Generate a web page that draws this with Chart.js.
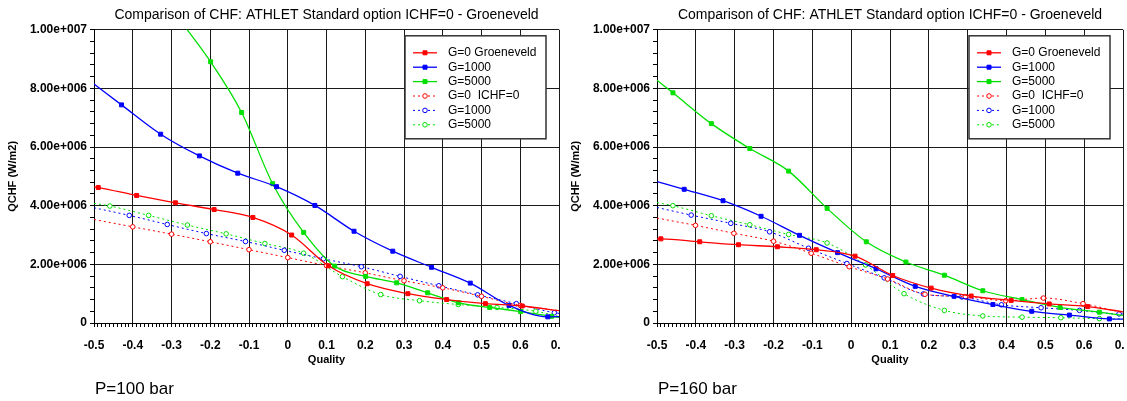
<!DOCTYPE html>
<html>
<head>
<meta charset="utf-8">
<script src="https://cdn.jsdelivr.net/npm/chart.js@4.4.0/dist/chart.umd.min.js"></script>
<style>
body { margin: 0; background: #fff; width: 1127px; height: 401px; overflow: hidden; position: relative; font-family: "Liberation Sans", Arial, sans-serif; }
.pane { position: absolute; top: 0; height: 401px; overflow: hidden; }
.plabel { position: absolute; top: 380px; font-size: 17px; line-height: 17px; color: #000; }
</style>
</head>
<body>
<div class="pane" style="left:0;width:560px"><canvas id="c100" width="560" height="401"></canvas></div>
<div class="pane" style="left:563px;width:561px"><canvas id="c160" width="561" height="401"></canvas></div>
<div class="plabel" style="left:95px">P=100 bar</div>
<div class="plabel" style="left:658px">P=160 bar</div>
<script>
// chart text
const titleText = "Comparison of CHF: ATHLET Standard option ICHF=0 - Groeneveld";
const xTitle = "Quality";
const yTitle = "QCHF (W/m2)";
const seriesLabels = ["G=0 Groeneveld", "G=1000", "G=5000", "G=0  ICHF=0", "G=1000", "G=5000"];

// P=100 bar : [quality, QCHF W/m2]
const p100Groen = [[-0.5,4.64e6],[-0.489,4.62e6],[-0.39,4.35e6],[-0.29,4.10e6],[-0.19,3.87e6],[-0.09,3.60e6],[0.01,3.0e6],[0.105,1.95e6],[0.205,1.34e6],[0.31,1.0e6],[0.41,0.80e6],[0.51,0.66e6],[0.605,0.58e6],[0.7,0.42e6]];
const p100G1000 = [[-0.5,8.15e6],[-0.429,7.44e6],[-0.328,6.44e6],[-0.228,5.70e6],[-0.129,5.11e6],[-0.029,4.65e6],[0.07,4.01e6],[0.171,3.13e6],[0.271,2.45e6],[0.371,1.90e6],[0.471,1.36e6],[0.571,0.60e6],[0.671,0.21e6],[0.7,0.22e6]];
const p100G5000 = [[-0.279,10.35e6],[-0.199,8.91e6],[-0.119,7.18e6],[-0.039,4.75e6],[0.041,3.09e6],[0.121,1.94e6],[0.201,1.59e6],[0.281,1.37e6],[0.361,1.03e6],[0.441,0.69e6],[0.521,0.53e6],[0.601,0.39e6],[0.681,0.23e6],[0.7,0.19e6]];
const p100Ichf0 = [[-0.5,3.53e6],[-0.4,3.28e6],[-0.3,3.03e6],[-0.2,2.77e6],[-0.1,2.50e6],[0.0,2.23e6],[0.1,1.96e6],[0.2,1.71e6],[0.3,1.44e6],[0.4,1.20e6],[0.5,0.91e6],[0.6,0.60e6],[0.7,0.42e6]];
const p100Ichf1000 = [[-0.5,3.93e6],[-0.409,3.67e6],[-0.311,3.36e6],[-0.21,3.05e6],[-0.109,2.78e6],[-0.009,2.48e6],[0.092,2.19e6],[0.19,1.92e6],[0.29,1.59e6],[0.39,1.27e6],[0.49,0.96e6],[0.59,0.66e6],[0.688,0.35e6],[0.7,0.33e6]];
const p100Ichf5000 = [[-0.5,4.08e6],[-0.459,3.99e6],[-0.359,3.67e6],[-0.259,3.34e6],[-0.159,3.04e6],[-0.059,2.71e6],[0.041,2.38e6],[0.141,1.58e6],[0.24,0.97e6],[0.34,0.76e6],[0.44,0.63e6],[0.54,0.53e6],[0.64,0.40e6],[0.7,0.22e6]];

// P=160 bar
const p160Groen = [[-0.5,2.87e6],[-0.49,2.87e6],[-0.39,2.77e6],[-0.29,2.67e6],[-0.19,2.60e6],[-0.09,2.50e6],[0.01,2.28e6],[0.107,1.62e6],[0.206,1.19e6],[0.309,0.92e6],[0.412,0.77e6],[0.51,0.65e6],[0.609,0.56e6],[0.7,0.38e6]];
const p160G1000 = [[-0.5,4.82e6],[-0.43,4.56e6],[-0.33,4.17e6],[-0.232,3.64e6],[-0.133,2.99e6],[-0.035,2.40e6],[0.064,1.85e6],[0.165,1.25e6],[0.265,0.91e6],[0.365,0.63e6],[0.465,0.40e6],[0.562,0.27e6],[0.665,0.14e6],[0.7,0.13e6]];
const p160G5000 = [[-0.5,8.28e6],[-0.459,7.85e6],[-0.36,6.80e6],[-0.261,5.95e6],[-0.161,5.18e6],[-0.062,3.91e6],[0.039,2.77e6],[0.141,2.08e6],[0.24,1.63e6],[0.339,1.10e6],[0.44,0.80e6],[0.538,0.53e6],[0.639,0.37e6],[0.7,0.26e6]];
const p160Ichf0 = [[-0.5,3.58e6],[-0.401,3.33e6],[-0.302,3.06e6],[-0.2,2.79e6],[-0.103,2.38e6],[-0.005,1.92e6],[0.094,1.50e6],[0.19,0.98e6],[0.294,0.90e6],[0.398,0.76e6],[0.495,0.85e6],[0.597,0.66e6],[0.7,0.35e6]];
const p160Ichf1000 = [[-0.5,3.94e6],[-0.412,3.68e6],[-0.31,3.40e6],[-0.21,3.11e6],[-0.11,2.55e6],[-0.011,2.03e6],[0.085,1.54e6],[0.186,0.99e6],[0.285,0.89e6],[0.387,0.62e6],[0.489,0.52e6],[0.588,0.43e6],[0.69,0.31e6],[0.7,0.31e6]];
const p160Ichf5000 = [[-0.5,4.11e6],[-0.459,4.0e6],[-0.36,3.66e6],[-0.261,3.35e6],[-0.161,3.02e6],[-0.062,2.73e6],[0.037,1.98e6],[0.136,1.0e6],[0.24,0.43e6],[0.339,0.24e6],[0.44,0.20e6],[0.54,0.18e6],[0.639,0.15e6],[0.7,0.14e6]];

const colors = ["#ff0000", "#0000ff", "#00e000"];
const FONT = '"Liberation Sans", Arial, sans-serif';

function isMajorX(v) { return Math.abs(v * 10 - Math.round(v * 10)) < 1e-6; }
function isMajorY(v) { return Math.round(v) % 2000000 === 0; }
function fmtY(v) {
    if (v === 0) return "0";
    return v.toExponential(2).replace(/e([+-])(\d+)/, (m, s, d) => "e" + s + d.padStart(3, "0"));
}

function series(i, pts, dotted) {
    const c = colors[i % 3];
    return {
        label: seriesLabels[i],
        data: pts.map(p => ({ x: p[0], y: p[1] })),
        borderColor: c,
        backgroundColor: dotted ? "#fff" : c,
        borderWidth: dotted ? 1 : 1.3,
        borderDash: dotted ? [2, 3] : [],
        pointStyle: dotted ? "circle" : "rect",
        pointRadius: ctx => (ctx.dataIndex === 0 || ctx.dataIndex === ctx.dataset.data.length - 1) ? 0 : (dotted ? 2.3 : 2.8),
        pointBorderWidth: 1,
        pointBorderColor: c,
        pointBackgroundColor: dotted ? "#fff" : c,
        cubicInterpolationMode: "monotone"
    };
}

function drawMarker(ctx, ds, x, y) {
    ctx.save();
    ctx.lineWidth = 1;
    ctx.strokeStyle = ds.borderColor;
    ctx.fillStyle = ds.pointBackgroundColor;
    ctx.beginPath();
    if (ds.pointStyle === "rect") ctx.rect(x - 2, y - 2, 4, 4);
    else ctx.arc(x, y, 2.3, 0, Math.PI * 2);
    ctx.fill();
    ctx.stroke();
    ctx.restore();
}

// legend box in the upper right of the plot
const boxLegend = {
    id: "boxLegend",
    afterDraw(chart) {
        const { ctx, chartArea } = chart;
        const w = 141, h = 103;
        const left = chartArea.right - 13 - w, top = chartArea.top + 6;
        ctx.save();
        ctx.fillStyle = "#fff";
        ctx.fillRect(left, top, w, h);
        ctx.strokeStyle = "#333";
        ctx.lineWidth = 1.5;
        ctx.strokeRect(left, top, w, h);
        chart.data.datasets.forEach((ds, i) => {
            const y = top + 17 + i * 14.4;
            ctx.strokeStyle = ds.borderColor;
            ctx.lineWidth = ds.borderWidth;
            ctx.setLineDash(ds.borderDash);
            ctx.beginPath();
            ctx.moveTo(left + 8, y);
            ctx.lineTo(left + 32, y);
            ctx.stroke();
            ctx.setLineDash([]);
            drawMarker(ctx, ds, left + 20, y);
            ctx.fillStyle = "#000";
            ctx.font = "12px " + FONT;
            ctx.textBaseline = "middle";
            ctx.textAlign = "left";
            ctx.fillText(ds.label, left + 43, y);
        });
        ctx.restore();
    }
};

function makeChart(id, sets, padRight) {
    return new Chart(document.getElementById(id), {
        type: "line",
        data: {
            datasets: [
                series(0, sets[0], false), series(1, sets[1], false), series(2, sets[2], false),
                series(3, sets[3], true), series(4, sets[4], true), series(5, sets[5], true)
            ]
        },
        options: {
            responsive: false,
            animation: false,
            layout: { padding: { left: 0, right: padRight, top: 0, bottom: 31 } },
            plugins: {
                legend: { display: false },
                tooltip: { enabled: false },
                title: {
                    display: true, text: titleText, color: "#000", fullSize: false,
                    font: { family: FONT, size: 14, weight: "normal" },
                    padding: { top: 7, bottom: 6 }
                }
            },
            scales: {
                x: {
                    type: "linear", min: -0.5, max: 0.7,
                    afterFit: s => { s.height = 47; s.paddingRight = 0; },
                    ticks: {
                        stepSize: 0.01, autoSkip: false, maxRotation: 0, minRotation: 0, padding: 11, color: "#000",
                        font: { family: FONT, size: 12, weight: "bold" },
                        callback: v => isMajorX(v) ? (Math.abs(v) < 1e-9 ? "0" : String(Math.round(v * 10) / 10)) : ""
                    },
                    grid: {
                        color: c => isMajorX(c.tick.value) ? "#1a1a1a" : "rgba(0,0,0,0)",
                        tickColor: "#000", tickLength: 4, lineWidth: 1
                    },
                    border: { display: true, color: "#000", width: 1 },
                    title: {
                        display: true, text: xTitle, color: "#000",
                        font: { family: FONT, size: 11, weight: "bold" },
                        padding: { top: 2, bottom: 3 }
                    }
                },
                y: {
                    min: 0, max: 10000000,
                    afterFit: s => { s.width = 94; },
                    ticks: {
                        stepSize: 400000, autoSkip: false, padding: 3, color: "#000",
                        font: { family: FONT, size: 12, weight: "bold" },
                        callback: v => isMajorY(v) ? fmtY(v) : ""
                    },
                    grid: {
                        color: c => isMajorY(c.tick.value) ? "#1a1a1a" : "rgba(0,0,0,0)",
                        tickColor: "#000", tickLength: 4, lineWidth: 1
                    },
                    border: { display: true, color: "#000", width: 1 },
                    title: {
                        display: true, text: yTitle, color: "#000",
                        font: { family: FONT, size: 11, weight: "bold" },
                        padding: { top: 6, bottom: 4 }
                    }
                }
            }
        },
        plugins: [boxLegend]
    });
}

makeChart("c100", [p100Groen, p100G1000, p100G5000, p100Ichf0, p100Ichf1000, p100Ichf5000], 1);
makeChart("c160", [p160Groen, p160G1000, p160G5000, p160Ichf0, p160Ichf1000, p160Ichf5000], 1);
</script>
</body>
</html>
